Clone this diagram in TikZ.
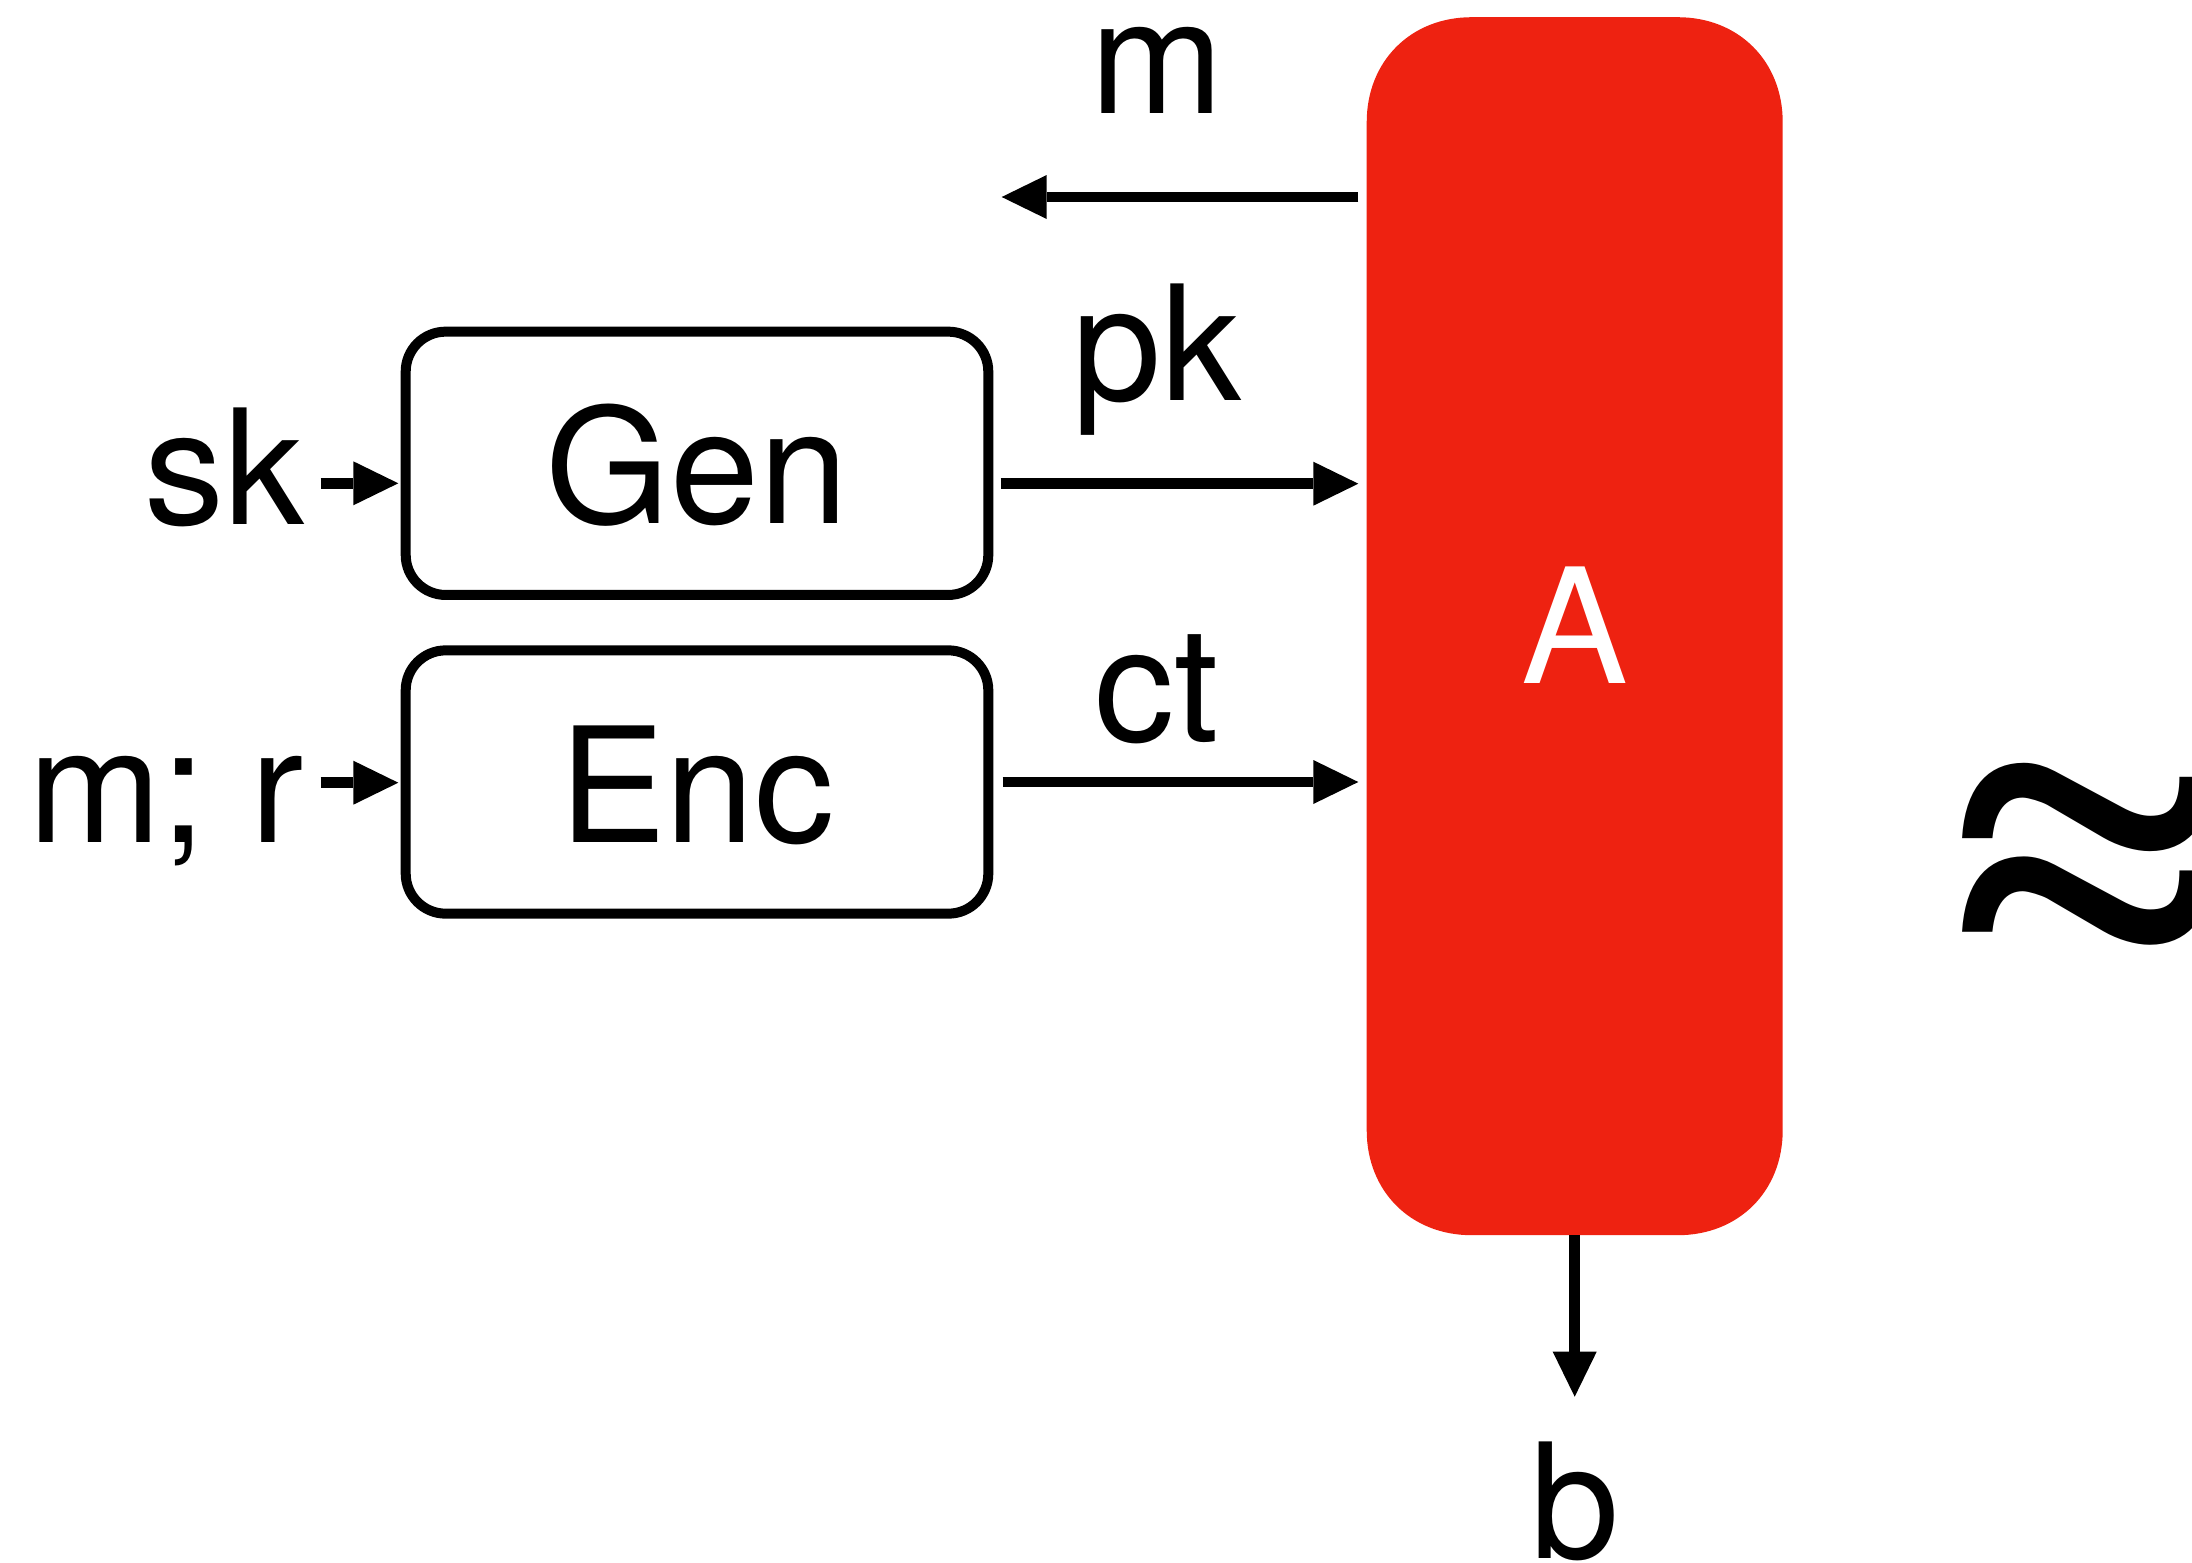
\documentclass[tikz,border=0pt]{standalone}
\usepackage{fontspec}
\setmainfont{TeX Gyre Heros}
\usetikzlibrary{arrows.meta,calc,backgrounds}
\definecolor{advred}{RGB}{238,34,17}
\begin{document}
\begin{tikzpicture}[x=1pt,y=-1pt,
  big/.style={font=\fontsize{160}{192}\selectfont},
  lbl/.style={big, inner sep=0pt, anchor=base},
  algbox/.style={big, draw, line width=10pt, rounded corners=40pt,
    minimum width=582.6pt, minimum height=263.3pt, inner sep=0pt,
    outer sep=0pt, text height=120pt, text depth=0pt},
  advbox/.style={big, text=white,
    minimum width=416pt, minimum height=1218pt, inner sep=0pt,
    outer sep=0pt, text height=115pt, text depth=0pt},
  arr/.style={line width=10.5pt,
    -{Triangle[length=45pt,width=44pt,line width=0pt]}}]
\useasboundingbox (0,0) rectangle (2192,1563);
\clip (0,0) rectangle (2192,1563);

% the two algorithms and the adversary
\node[algbox] (gen) at (697,463.3) {Gen};
\node[algbox] (enc) at (697,782) {Enc};
\node[advbox] (adv) at (1574.7,626.2) {A};

% adversary body: rectangle with smooth corners
\def\ce{105}
\def\cc{44}
\begin{scope}[on background layer]
  \fill[white] (0,0) rectangle (2192,1563);
  \fill[advred]
    ($(adv.north west)+(0,\ce)$)
      .. controls ($(adv.north west)+(0,\cc)$) and ($(adv.north west)+(\cc,0)$) ..
    ($(adv.north west)+(\ce,0)$) -- ($(adv.north east)+(-\ce,0)$)
      .. controls ($(adv.north east)+(-\cc,0)$) and ($(adv.north east)+(0,\cc)$) ..
    ($(adv.north east)+(0,\ce)$) -- ($(adv.south east)+(0,-\ce)$)
      .. controls ($(adv.south east)+(0,-\cc)$) and ($(adv.south east)+(-\cc,0)$) ..
    ($(adv.south east)+(-\ce,0)$) -- ($(adv.south west)+(\ce,0)$)
      .. controls ($(adv.south west)+(\cc,0)$) and ($(adv.south west)+(0,-\cc)$) ..
    ($(adv.south west)+(0,-\ce)$) -- cycle;
\end{scope}

% labels
\node[lbl] (sk) at (224,524) {sk};
\node[lbl] (mr) at (166,842.7) {m; r};
\node[lbl] (m) at (1156.7,113.3) {m};
\node[lbl] (pk) at (1156.7,400) {pk};
\node[lbl] (ct) at (1156.7,741.7) {ct};
\node[lbl] (b) at (1574.7,1558.3) {b};
\begin{scope}[shift={(1902,990)}, xscale=1.1]
  \node[font=\fontsize{520}{600}\selectfont, inner sep=0pt,
    anchor=base west, transform shape] (approx) at (0,0) {≈};
\end{scope}

% connector end points
\coordinate (skout) at (320.7,483.3);
\coordinate (mrout) at (320.7,782.7);
\coordinate (mtip) at (1001.7,197);
\coordinate (pky) at (0,483.7);
\coordinate (btip) at (1574.7,1396.7);

% connectors
\draw[arr, shorten >=7.4pt] (skout) -- (skout -| gen.west);
\draw[arr, shorten >=7.4pt] (mrout) -- (mrout -| enc.west);
\draw[arr, shorten <=12.4pt, shorten >=8.4pt] (gen.east |- pky) -- (adv.west |- pky);
\draw[arr, shorten <=14.4pt, shorten >=8.4pt] (enc.east) -- (adv.west |- enc.east);
\draw[arr, shorten <=8.4pt] (adv.west |- mtip) -- (mtip);
\draw[arr] (adv.south) -- (btip);
\end{tikzpicture}
\end{document}
